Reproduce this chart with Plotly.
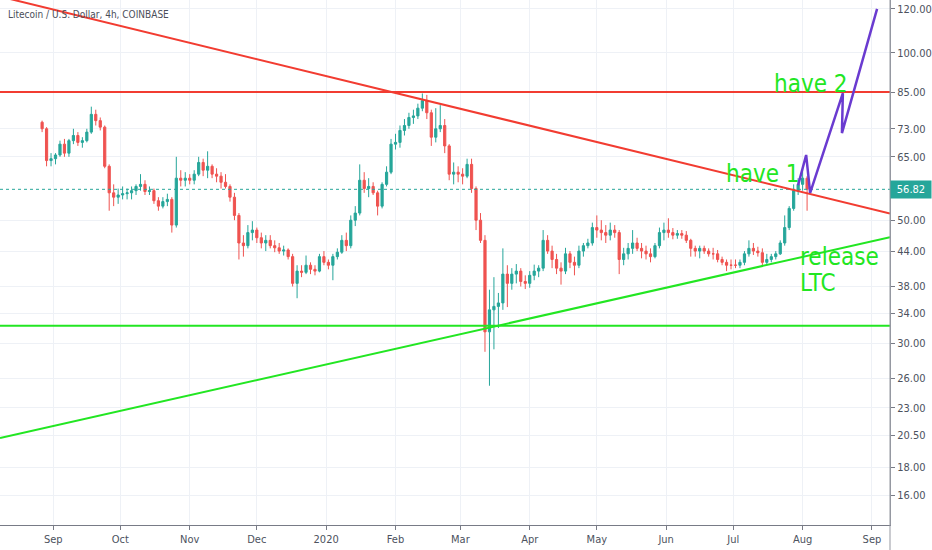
import numpy as np
import pandas as pd
import plotly.graph_objects as go

# 2-day candles (Aug 26 2019 -> Aug 3 2020)
first_open = 75.0
close = [73, 64, 64.5, 65.5, 68.5, 66, 69.5, 71, 69, 69.5,
         72, 77.5, 75.5, 73.5, 62.5, 56, 55, 55.5, 55.8, 56,
         56.5, 57.5, 58, 56.3, 56.5, 54.2, 53, 54, 54.5, 49,
         59.5, 59, 59.5, 59, 60.5, 63.5, 61.5, 62.5, 60.5, 60,
         58.5, 57.5, 55, 51, 45.5, 45, 47.5, 48, 46.5, 45.5,
         46, 45, 44.6, 44, 44.2, 43, 38.5, 40.5, 40.3, 41.5,
         40.8, 40.5, 43, 42, 41.5, 43, 43.8, 46, 45, 50,
         51.5, 59, 57, 57.5, 56, 53, 58, 61, 68.5, 69,
         72.5, 74, 76.5, 77, 79.5, 82, 78, 70.5, 73, 74,
         68, 60.5, 61, 60.5, 60, 63, 57, 50, 46, 31.5,
         34.5, 35, 35.5, 40, 38.5, 40, 40.5, 38.8, 38.5, 39.8,
         40.5, 41, 46, 44, 42.5, 41, 40.5, 43.5, 42, 41.5,
         44, 45, 45.5, 48.5, 48, 47.5, 47, 48, 47.5, 42.5,
         43.5, 44.5, 45.5, 44.5, 44, 43.5, 43, 45, 47.5, 48,
         47.5, 47, 47.3, 47, 46, 44.5, 44, 44.5, 44, 43.5,
         43.5, 42.5, 42, 41.5, 41.5, 41.5, 42, 43.5, 44.5, 44,
         43.7, 42, 42.5, 43, 43.5, 45.5, 48.5, 52.5, 56.5, 58, 59.5, 56.82]
high = [75.5, 73.5, 66, 66, 69.5, 70, 70, 73, 72, 70.5,
        73, 80, 79, 76.5, 74, 63, 58, 57, 57.5, 57,
        57.5, 58, 60.5, 59, 57.5, 57, 55, 55, 55.8, 55,
        65, 61.5, 61, 60.5, 61.5, 65, 64.5, 66.5, 63, 62,
        61, 60.5, 58, 56, 51.5, 47, 49, 49.8, 48.5, 47.5,
        47, 47, 46, 45.5, 45, 44.5, 43.5, 41.5, 41.5, 43.2,
        42, 41.5, 43.5, 44, 42.5, 43.5, 44.5, 47, 47.5, 51,
        53, 63, 61, 59.5, 58.5, 56.5, 58.5, 62.5, 70, 71.5,
        74, 76, 78, 79, 81, 84.5, 84, 79, 79.5, 80.5,
        76, 68.5, 63.5, 62.5, 62, 64.5, 64.5, 57.5, 51.5, 47,
        37.5, 39.5, 37, 44.5, 41.5, 41, 41.7, 41, 39.8, 40.5,
        41.6, 41.5, 48, 47, 45, 43.5, 42, 44.6, 44, 43,
        45, 45.5, 46.3, 49.5, 51, 50, 49, 49.5, 49, 48,
        44.6, 45.5, 48, 46.5, 45.5, 45, 44.5, 45.5, 48.5, 49.5,
        50.4, 48.4, 48, 48, 47.8, 46.3, 45, 45, 45, 44.5,
        44.6, 44.2, 43, 42.5, 42.5, 42.5, 42.5, 44, 46, 45.5,
        44.8, 44.5, 43.5, 43.5, 44, 46, 51, 53, 58, 59.5, 62.5, 60]
low = [72, 62.5, 62.5, 63, 65, 65, 65, 68.5, 68, 67.5,
       69, 71.5, 74, 72.5, 62, 52, 53, 53.5, 54.5, 54.5,
       54.5, 55.5, 56.5, 55.5, 55.5, 53.5, 52, 52.5, 53, 47.5,
       48.5, 57.5, 57.5, 58, 58, 60, 60, 59.5, 59.5, 58.5,
       57, 57, 54, 50, 42.5, 43, 44.5, 46, 45.5, 44.5,
       44, 44.5, 43.8, 43.5, 43.2, 42.5, 38, 36.2, 39.5, 40,
       40, 39.8, 40.3, 41.5, 40.8, 39, 42.5, 43.5, 44, 44.5,
       48.8, 51, 56, 55, 55.5, 51, 52.5, 57.5, 60.5, 67,
       67.5, 71, 73, 74.5, 76, 78.5, 76, 68, 69, 72,
       66, 59, 58, 58.5, 58, 59.5, 56, 48, 45.5, 29,
       25.2, 29.3, 32, 34.5, 34.9, 37.5, 38.5, 38, 37.6, 37.8,
       39, 39.5, 40.5, 43.5, 41, 40, 38.3, 40, 41, 39.8,
       41, 43, 44.5, 45, 46.5, 46, 45.5, 46, 46.5, 40,
       41.5, 42.5, 43.5, 44, 42.7, 42.5, 42, 42.7, 44.5, 46,
       46.5, 46.2, 46.3, 46.3, 45.5, 43, 43, 42.7, 43.5, 43,
       42.5, 42, 41.5, 40.5, 40.8, 41, 41, 41.5, 43, 43.3,
       43, 41.2, 41.5, 42, 42.5, 43.3, 45, 48, 52, 55.5, 56.5, 52]
dates = pd.date_range("2019-08-27", periods=len(close), freq="2D")
opens = [first_open] + close[:-1]
last_price = 56.82

# drawings on the chart (date, price)
x_start, x_end = "2019-08-08 04:20", "2020-09-09 01:40"
red_trend_x = [x_start, x_end]
red_trend_y = [126.2, 51.4]
red_level = 85.0
green_trend_x = [x_start, x_end]
green_trend_y = [20.3, 46.6]
green_level = 32.3
path_x = ["2020-07-30 00:00", "2020-08-02 14:00", "2020-08-04 09:00",
          "2020-08-19 00:00", "2020-08-18 14:00", "2020-09-03 07:00"]
path_y = [57.8, 65.5, 56.0, 84.6, 71.7, 119.9]

# axis ticks
y_ticks = [16, 18, 20.5, 23, 26, 30, 34, 38, 44, 50, 65, 73, 85, 100, 120]
month_ticks = pd.date_range("2019-09-01", "2020-09-01", freq="MS")
month_labels = ["Sep", "Oct", "Nov", "Dec", "2020", "Feb", "Mar", "Apr",
                "May", "Jun", "Jul", "Aug", "Sep"]

UP, DOWN = "#26a69a", "#ef5350"
RED, GREEN, PURPLE = "#f23c31", "#22e622", "#6a3bd0"
FONT = "DejaVu Sans Condensed, Liberation Sans Narrow, sans-serif"

fig = go.Figure()

# last price dotted line
fig.add_trace(go.Scatter(x=[x_start, x_end], y=[last_price, last_price], mode="lines",
                         line=dict(color=UP, width=1, dash="dot")))

fig.add_trace(go.Candlestick(
    x=dates, open=opens, high=high, low=low, close=close,
    whiskerwidth=0,
    increasing=dict(line=dict(color=UP, width=1), fillcolor=UP),
    decreasing=dict(line=dict(color=DOWN, width=1), fillcolor=DOWN),
))

fig.add_trace(go.Scatter(x=red_trend_x, y=red_trend_y, mode="lines",
                         line=dict(color=RED, width=2)))
fig.add_trace(go.Scatter(x=[x_start, x_end], y=[red_level, red_level], mode="lines",
                         line=dict(color=RED, width=2)))
fig.add_trace(go.Scatter(x=green_trend_x, y=green_trend_y, mode="lines",
                         line=dict(color=GREEN, width=2)))
fig.add_trace(go.Scatter(x=[x_start, x_end], y=[green_level, green_level], mode="lines",
                         line=dict(color=GREEN, width=2)))
fig.add_trace(go.Scatter(x=path_x, y=path_y, mode="lines",
                         line=dict(color=PURPLE, width=2.5)))

txt = dict(family=FONT, size=24, color=GREEN)
fig.add_annotation(x="2020-08-04 14:00", y=np.log10(87.9), text="have 2",
                   showarrow=False, font=txt)
fig.add_annotation(x="2020-07-14 10:00", y=np.log10(60.5), text="have 1",
                   showarrow=False, font=txt)
fig.add_annotation(x="2020-07-30 00:00", y=np.log10(42.9), text="release",
                   showarrow=False, font=txt, xanchor="left")
fig.add_annotation(x="2020-07-30 00:00", y=np.log10(38.6), text="LTC",
                   showarrow=False, font=txt, xanchor="left")

# title and price label
fig.add_annotation(xref="paper", yref="paper", x=0.007, y=0.973,
                   xanchor="left", yanchor="middle",
                   text="Litecoin / U.S. Dollar, 4h, COINBASE", showarrow=False,
                   font=dict(family=FONT, size=10, color="#4a4e59"))
fig.add_annotation(xref="paper", x=1, y=np.log10(last_price), xanchor="left",
                   text="56.82", showarrow=False, bgcolor=UP, width=36, borderpad=2,
                   font=dict(family=FONT, size=11, color="white"))

# right axis line running down into the date strip
fig.add_shape(type="line", xref="paper", yref="paper", x0=1, x1=1, y0=-0.05, y1=1,
              line=dict(color="#9598a1", width=1))

fig.update_layout(
    width=932, height=550,
    margin=dict(l=0, r=40, t=0, b=25),
    plot_bgcolor="white", paper_bgcolor="white",
    showlegend=False, hovermode=False,
    font=dict(family=FONT, size=11, color="#4c525e"),
)
fig.update_xaxes(
    type="date", range=[x_start, x_end], rangeslider_visible=False,
    tickvals=month_ticks, ticktext=month_labels,
    showgrid=True, gridcolor="#eef1f6", zeroline=False,
    ticks="outside", ticklen=4, tickcolor="#787b86",
    showline=True, linecolor="#787b86", linewidth=1,
)
fig.update_yaxes(
    type="log", side="right", range=[np.log10(14.16), np.log10(124.4)],
    tickvals=y_ticks, ticktext=["%.2f" % v for v in y_ticks],
    showgrid=True, gridcolor="#eef1f6", zeroline=False,
    ticks="outside", ticklen=4, tickcolor="#787b86",
    showline=True, linecolor="#9598a1", linewidth=1,
)

# drop the page's default body margin so the figure sits at the window corner
fig.write_html("out.html", config={"displayModeBar": False},
               post_script="document.body.style.margin='0';")
